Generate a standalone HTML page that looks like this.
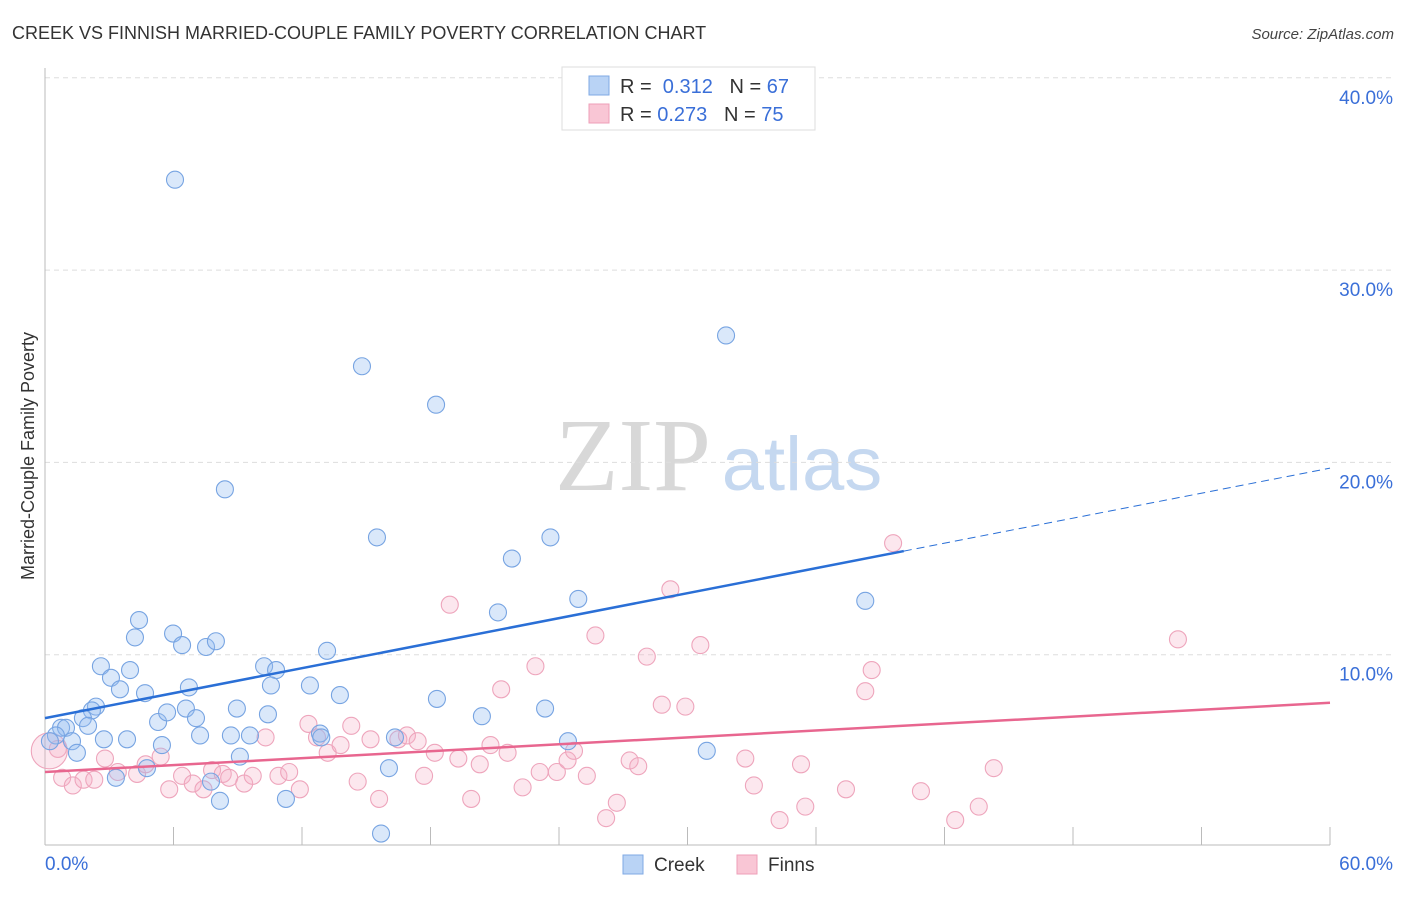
<!DOCTYPE html>
<html><head><meta charset="utf-8"><style>
body{margin:0;background:#fff;font-family:"Liberation Sans",sans-serif}
</style></head><body>
<svg id="chart" width="1406" height="892" xmlns="http://www.w3.org/2000/svg" font-family="Liberation Sans, sans-serif">
<text x="12" y="39" font-size="18" fill="#333">CREEK VS FINNISH MARRIED-COUPLE FAMILY POVERTY CORRELATION CHART</text>
<text x="1394" y="39" font-size="15" fill="#444" text-anchor="end" font-style="italic">Source: ZipAtlas.com</text>
<g>
<text x="633" y="490" font-size="104" font-family="Liberation Serif, serif" fill="#d8d8d8" text-anchor="middle">ZIP</text>
<text x="802" y="490" font-size="76" fill="#c5d8f0" text-anchor="middle">atlas</text>
</g>
<g id="grid"></g>
<g id="axes"></g>
<g id="pts"></g>
<g id="trend"></g>
<text transform="translate(34,456) rotate(-90)" font-size="18" fill="#333" text-anchor="middle">Married-Couple Family Poverty</text>
<g>
<rect x="562" y="67" width="253" height="63" fill="#fff" stroke="#ddd"/>
<rect x="589" y="76" width="20" height="19" fill="#b9d3f5" stroke="#7fa9e4"/>
<rect x="589" y="104" width="20" height="19" fill="#f9c6d5" stroke="#ee9fb8"/>
<text x="620" y="93" font-size="20" fill="#333">R = <tspan fill="#3a6fd8">&#160;0.312</tspan>&#160;&#160;&#160;N = <tspan fill="#3a6fd8">67</tspan></text>
<text x="620" y="121" font-size="20" fill="#333">R = <tspan fill="#3a6fd8">0.273</tspan>&#160;&#160;&#160;N = <tspan fill="#3a6fd8">75</tspan></text>
</g>
<g>
<rect x="623" y="855" width="20" height="19" fill="#b9d3f5" stroke="#7fa9e4"/>
<text x="654" y="871" font-size="19" fill="#333">Creek</text>
<rect x="737" y="855" width="20" height="19" fill="#f9c6d5" stroke="#ee9fb8"/>
<text x="768" y="871" font-size="19" fill="#333">Finns</text>
</g>
</svg>
<script>
const creekX=[6.07,8.4,14.8,18.26,31.8,15.5,23.6,21.8,24.9,21.15,38.3,4.39,4.2,5.98,6.4,7.52,7.98,2.61,3.97,3.08,3.5,4.67,6.72,10.23,10.79,10.55,12.37,13.17,13.77,18.3,2.38,2.19,1.77,0.75,0.98,2.01,0.51,0.23,1.26,1.49,2.75,3.83,5.28,5.7,6.58,7.05,7.24,8.68,8.96,9.57,10.41,9.1,5.46,4.76,3.31,7.75,8.17,11.25,12.84,12.9,16.06,16.34,20.4,23.35,24.42,30.9,15.69];
const creekY=[34.7,18.6,25.0,23.0,26.6,16.1,16.1,15.0,12.9,12.2,12.8,11.8,10.9,11.1,10.5,10.4,10.7,9.4,9.2,8.8,8.2,8.0,8.3,9.4,9.2,8.4,8.4,10.2,7.9,7.7,7.3,7.1,6.7,6.2,6.2,6.3,5.8,5.5,5.5,4.9,5.6,5.6,6.5,7.0,7.2,6.7,5.8,5.8,7.2,5.8,6.9,4.7,5.3,4.1,3.6,3.4,2.4,2.5,5.9,5.7,4.1,5.7,6.8,7.2,5.5,5.0,0.7];
const finnsX=[39.6,29.2,18.9,25.7,30.6,28.1,22.9,38.6,38.3,52.9,21.3,28.8,29.9,12.3,14.3,12.7,13.2,13.8,15.2,16.5,16.9,17.4,18.2,19.3,20.3,20.8,21.6,23.1,23.9,24.4,24.7,25.3,27.3,27.7,32.7,35.3,44.3,0.6,0.2,0.8,1.3,1.8,2.3,2.8,3.4,4.3,4.7,5.4,5.8,6.4,6.9,7.4,7.8,8.3,8.6,9.3,9.7,10.3,10.9,11.4,11.9,14.6,15.6,17.7,19.9,22.3,26.7,26.2,33.1,35.5,37.4,40.9,43.6,42.5,34.3];
const finnsY=[15.8,13.4,12.6,11.0,10.5,9.9,9.4,9.2,8.1,10.8,8.2,7.4,7.3,6.4,6.3,5.7,4.9,5.3,5.6,5.6,5.8,5.5,4.9,4.6,4.3,5.3,4.9,3.9,3.9,4.5,5.0,3.7,4.5,4.2,4.6,4.3,4.1,5.1,5.0,3.6,3.2,3.5,3.5,4.6,3.9,3.8,4.3,4.7,3.0,3.7,3.3,3.0,4.0,3.8,3.6,3.3,3.7,5.7,3.7,3.9,3.0,3.4,2.5,3.7,2.5,3.1,2.3,1.5,3.2,2.1,3.0,2.9,2.1,1.4,1.4];
const yTicks=[10,20,30,40];
const yTickLabels=["10.0%","20.0%","30.0%","40.0%"];
const xTickLabels=["0.0%","60.0%"];
const creekTrend=[6.7,19.7];
const finnsTrend=[3.9,7.5];
const NS="http://www.w3.org/2000/svg";
const X=v=>45+v/60*1285, Y=v=>847-v*19.23;
function mk(tag,attrs,parent){const e=document.createElementNS(NS,tag);for(const k in attrs)e.setAttribute(k,attrs[k]);document.getElementById(parent).appendChild(e);return e;}
yTicks.forEach((t,i)=>{
 const g=mk('line',{x1:45,x2:1392,y1:Y(t),y2:Y(t),stroke:'#ddd','stroke-dasharray':'5,4'},'grid');
 
 
 const l=mk('text',{x:1393,y:Y(t)+26,'font-size':19,fill:'#3a6fd8','text-anchor':'end'},'grid');
 l.textContent=yTickLabels[i];
 
 
});
const ax=mk('line',{x1:45,x2:45,y1:68,y2:845,stroke:'#bbb'},'axes');


const bx=mk('line',{x1:45,x2:1330,y1:845,y2:845,stroke:'#bbb'},'axes');


for(let i=1;i<=10;i++){const t=mk('line',{x1:X(i*6),x2:X(i*6),y1:827,y2:845,stroke:'#bbb'},'axes');
 
 }
const xl0=mk('text',{x:45,y:870,'font-size':19,fill:'#3a6fd8'},'axes');xl0.textContent=xTickLabels[0];


const xl1=mk('text',{x:1393,y:870,'font-size':19,fill:'#3a6fd8','text-anchor':'end'},'axes');xl1.textContent=xTickLabels[1];


finnsX.forEach((x,i)=>{const c=mk('circle',{cx:X(x),cy:Y(finnsY[i]),r:i==38?18:8.5,fill:'rgba(246,176,198,0.3)',stroke:'#eea5bc','stroke-width':1.1},'pts');
 
 });
creekX.forEach((x,i)=>{const c=mk('circle',{cx:X(x),cy:Y(creekY[i]),r:8.5,fill:'rgba(150,190,240,0.35)',stroke:'#77a4e2','stroke-width':1.1},'pts');
 
 });
const cy=v=>creekTrend[0]+(creekTrend[1]-creekTrend[0])*v/60;
const t1=mk('line',{x1:X(0),y1:Y(cy(0)),x2:X(40.1),y2:Y(cy(40.1)),stroke:'#2a6fd6','stroke-width':2.5},'trend');


const t2=mk('line',{x1:X(40.1),y1:Y(cy(40.1)),x2:X(60),y2:Y(cy(60)),stroke:'#2a6fd6','stroke-width':1,'stroke-dasharray':'8,5'},'trend');


const t3=mk('line',{x1:X(0),y1:Y(finnsTrend[0]),x2:X(60),y2:Y(finnsTrend[1]),stroke:'#e8668f','stroke-width':2.5},'trend');


</script>
</body></html>
